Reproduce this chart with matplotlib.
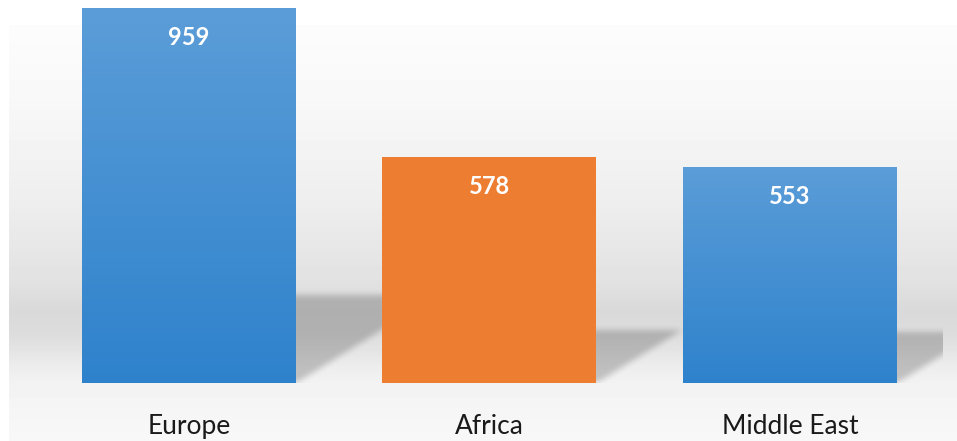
import matplotlib.pyplot as plt
import numpy as np
from matplotlib.colors import LinearSegmentedColormap

plt.rcParams['font.family'] = ['Lato', 'DejaVu Sans']

# data
regions = ['Europe', 'Africa', 'Middle East']
totals = [959, 578, 553]
bar_styles = ['blue', 'orange', 'blue']

W, H = 957, 441
fig = plt.figure(figsize=(W / 100, H / 100), dpi=100)

# grey backdrop wash (pixel space)
bg_ax = fig.add_axes([0, 0, 1, 1], zorder=0)
bg_ax.set_axis_off()
stops_y = [0, 25, 100, 200, 280, 310, 335, 365, 385, 441]
stops_v = [255, 252, 248, 238, 226, 217, 221, 236, 243, 248]
rows = np.interp(np.arange(H), stops_y, stops_v)
bg = np.tile(rows[:, None], (1, W))
bg[:25, :] = 255
bg[:, :9] = 255
bg_ax.imshow(bg, cmap='gray', vmin=0, vmax=255, extent=(0, W, H, 0),
             aspect='auto', interpolation='bilinear')
bg_ax.set_xlim(0, W)
bg_ax.set_ylim(H, 0)

# main axes
ax = fig.add_axes([0, 58 / H, 1, 383 / H], zorder=1)
ax.patch.set_alpha(0)
xlim = (-0.629, 2.556)
ylim = (0, 980)

x = np.arange(len(regions))
width = 0.712
bars = ax.bar(x, totals, width=width, color='none', zorder=3)

blue_cmap = LinearSegmentedColormap.from_list('blue_grad', ['#2e82cc', '#5b9dd8'])
for b, style in zip(bars, bar_styles):
    x0, w, h = b.get_x(), b.get_width(), b.get_height()
    if style == 'orange':
        b.set_facecolor('#ed7d31')
    else:
        grad = np.linspace(0, 1, 256)[:, None]
        im = ax.imshow(grad, cmap=blue_cmap, extent=(x0, x0 + w, 0, h),
                       origin='lower', aspect='auto', zorder=3)
        im.set_clip_path(b)

# slanted floor shadows behind each bar
nx, ny = 957, 383
px_x = nx / (xlim[1] - xlim[0])
px_y = ny / (ylim[1] - ylim[0])
xs = xlim[0] + (np.arange(nx) + 0.5) / px_x
ys = (np.arange(ny) + 0.5) / px_y
X, Y = np.meshgrid(xs, ys)
mask = np.zeros((ny, nx))
slope = 0.62 * px_x / px_y
for xi, v in zip(x, totals):
    r = xi + width / 2
    top = 0.235 * v
    m = (X >= r - 0.02) & (Y <= top) & (Y >= (X - r) * slope)
    mask = np.maximum(mask, m.astype(float))


def blur(a, k):
    kern = np.ones(k) / k
    a = np.apply_along_axis(lambda c: np.convolve(c, kern, mode='same'), 0, a)
    a = np.apply_along_axis(lambda c: np.convolve(c, kern, mode='same'), 1, a)
    return a


mask = blur(blur(mask, 7), 7)
mask[:, xs > 2.509] = 0
shade = np.zeros((ny, nx, 4))
shade[..., 3] = mask * 0.2
ax.imshow(shade, extent=(xlim[0], xlim[1], 0, ylim[1]), origin='lower',
          aspect='auto', zorder=2, interpolation='bilinear')

# value labels
for xi, v in zip(x, totals):
    ax.annotate(str(v), (xi, v), xytext=(0, -13), textcoords='offset points',
                ha='center', va='top', color='white', fontsize=17,
                fontweight='bold', zorder=5)

ax.set_xlim(*xlim)
ax.set_ylim(*ylim)
ax.set_xticks(x, regions, fontsize=19, color='#1a1a1a')
ax.tick_params(axis='x', length=0, pad=22)
ax.set_yticks([])
for s in ax.spines.values():
    s.set_visible(False)

fig.savefig('out.png', dpi=100)
